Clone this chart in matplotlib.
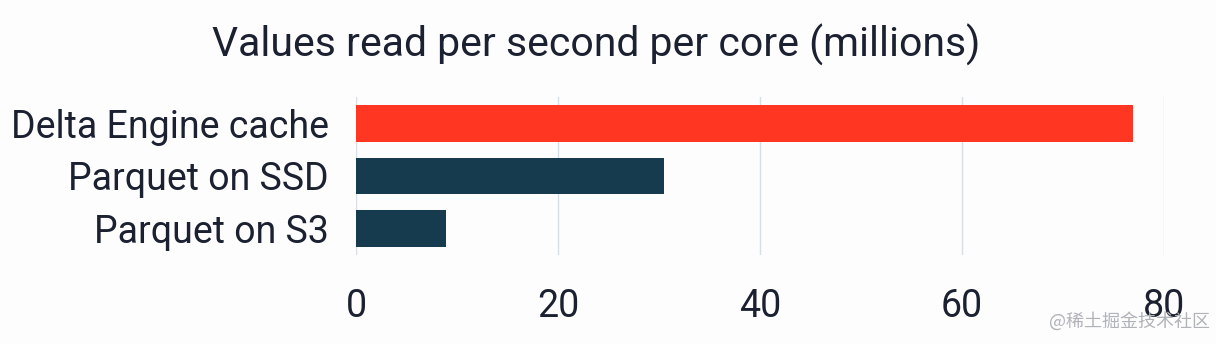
import matplotlib
matplotlib.use('Agg')
import matplotlib.pyplot as plt

labels = ['Delta Engine cache', 'Parquet on SSD', 'Parquet on S3']
values = [77.0, 30.5, 8.9]
colors = ['#ff3621', '#163a4e', '#163a4e']
ticks = [0, 20, 40, 60, 80]

text_color = '#1b2130'
font = ['Roboto', 'DejaVu Sans']

fig = plt.figure(figsize=(12.16, 3.44), dpi=100, facecolor='#fdfdfe')
ax = fig.add_axes([0.293, 0.259, 0.664, 0.459])
ax.set_facecolor('#fdfdfe')

ax.barh(range(len(labels)), values, height=0.7, color=colors, zorder=3)
ax.set_ylim(len(labels) - 0.5, -0.5)
ax.set_xlim(0, 80)

ax.set_xticks(ticks)
ax.set_xticklabels([str(t) for t in ticks], fontsize=27, color=text_color, family=font)
ax.set_yticks(range(len(labels)))
ax.set_yticklabels(labels, fontsize=27, color=text_color, family=font)
ax.tick_params(axis='both', length=0)
ax.tick_params(axis='x', pad=24)
ax.tick_params(axis='y', pad=20)

ax.grid(axis='x', color='#d9dee4', linewidth=1, zorder=0)
for s in ax.spines.values():
    s.set_visible(False)

fig.text(0.49, 0.87, 'Values read per second per core (millions)', ha='center', va='center',
         fontsize=29.5, color=text_color, family=font)

# watermark sits over the "80" label like in the source image
fig.text(0.995, 0.065, '@稀土掘金技术社区', ha='right', va='center', fontsize=13,
         color='#b0b3b8', family=['Noto Sans CJK SC', 'DejaVu Sans'])

fig.savefig('out.png', dpi=100, facecolor=fig.get_facecolor())
